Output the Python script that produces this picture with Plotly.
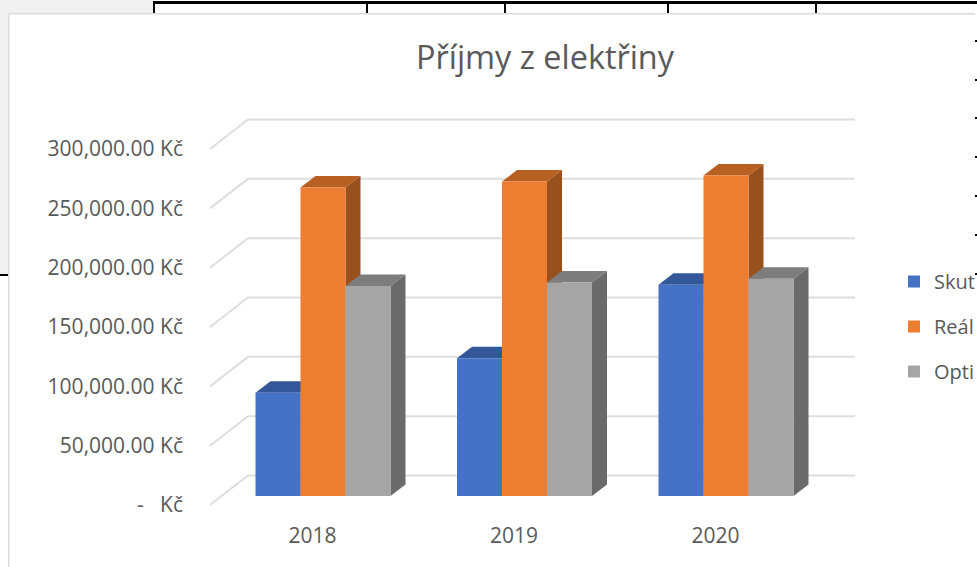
import plotly.graph_objects as go

categories = ["2018", "2019", "2020"]
series_names = ["Skut", "Reál", "Opti"]
skut_values = [87000, 116000, 178000]
real_values = [260000, 265000, 270000]
opti_values = [177000, 180000, 183000]
tick_values = [0, 50000, 100000, 150000, 200000, 250000, 300000]
tick_labels = ["-\u00a0\u00a0\u00a0Kč", "50,000.00 Kč", "100,000.00 Kč", "150,000.00 Kč",
               "200,000.00 Kč", "250,000.00 Kč", "300,000.00 Kč"]

W, H = 977, 567
front = ["#4472C4", "#ED7D31", "#A5A5A5"]
top = ["#34579A", "#B85F22", "#7D7D7D"]
side = ["#2C4A80", "#98511C", "#6A6A6A"]
TEXT = "#595959"
GRID = "#DEDEDE"
FONT = "Open Sans"

PX_PER_CAT = 201.5
PX_PER_VAL = 59.33 / 50000
BAR_X0 = 323.0   # pixel of first category in the bar plane
BAR_Y0 = 496     # pixel of value 0 in the bar plane
WALL_X0 = 312.5  # pixel of first category in the front-of-floor plane
WALL_Y0 = 505

def xrange_for(x0):
    return [(0 - x0) / PX_PER_CAT, (W - x0) / PX_PER_CAT]

def yrange_for(y0):
    return [(y0 - H) / PX_PER_VAL, y0 / PX_PER_VAL]

BARGAP = 0.33
bar_w = (1 - BARGAP) / 3
dx_bar, dy_bar = 15 / PX_PER_CAT, 11.5 / PX_PER_VAL
dx_wall, dy_wall = 38 / PX_PER_CAT, 29.5 / PX_PER_VAL
wall_left = (210 - WALL_X0) / PX_PER_CAT
wall_right = (855 - WALL_X0) / PX_PER_CAT

fig = go.Figure()

# Gridlines on the wall and the side wall
gx, gy = [], []
for v in tick_values:
    gx += [wall_left, wall_left + dx_wall, wall_right, None]
    gy += [v, v + dy_wall, v + dy_wall, None]
fig.add_trace(go.Scatter(x=gx, y=gy, mode="lines", line=dict(color=GRID, width=2),
                         hoverinfo="skip", showlegend=False, xaxis="x", yaxis="y"))

all_values = [skut_values, real_values, opti_values]
# Depth faces: computed from the values
for s, values in enumerate(all_values):
    for c, v in enumerate(values):
        left = c + (s - 1.5) * bar_w
        right = left + bar_w
        fig.add_trace(go.Scatter(
            x=[right, right + dx_bar, right + dx_bar, right, right],
            y=[0, dy_bar, v + dy_bar, v, 0],
            mode="lines", fill="toself", fillcolor=side[s], line=dict(width=0),
            hoverinfo="skip", showlegend=False, xaxis="x2", yaxis="y2"))
        fig.add_trace(go.Scatter(
            x=[left, left + dx_bar, right + dx_bar, right, left],
            y=[v, v + dy_bar, v + dy_bar, v, v],
            mode="lines", fill="toself", fillcolor=top[s], line=dict(width=0),
            hoverinfo="skip", showlegend=False, xaxis="x2", yaxis="y2"))

# Front faces
for s, values in enumerate(all_values):
    fig.add_trace(go.Bar(x=list(range(len(categories))), y=values, name=series_names[s],
                         marker=dict(color=front[s], line=dict(width=0)),
                         legendgroup=series_names[s], xaxis="x3", yaxis="y3"))

def px(x):
    return x / W

def py(y):
    return 1 - y / H

shapes = []
def rect(x0, y0, x1, y1, color):
    shapes.append(dict(type="rect", xref="paper", yref="paper", x0=px(x0), x1=px(x1),
                       y0=py(y0), y1=py(y1), fillcolor=color, line=dict(width=0), layer="below"))

rect(0, 0, 154, 274, "#F0F0F0")
rect(0, 274, 8, 276, "#000000")
rect(154, 1, 977, 4, "#000000")
for xv in [154, 367, 505, 668, 816]:
    rect(xv - 1, 1, xv + 1, 13, "#000000")
for yv in [41, 80, 118, 157, 196, 235, 274]:
    rect(975, yv - 1, 977, yv + 1, "#000000")
rect(8, 13, 975, 567, "#FFFFFF")
rect(8, 13, 975, 14.5, "#DCDCDC")
rect(8, 13, 9.5, 567, "#DCDCDC")

fig.update_layout(
    width=W, height=H,
    margin=dict(l=0, r=0, t=0, b=0, autoexpand=False),
    paper_bgcolor="white", plot_bgcolor="rgba(0,0,0,0)",
    barmode="group", bargap=BARGAP, bargroupgap=0,
    font=dict(family=FONT, color=TEXT),
    shapes=shapes,
    title=dict(text="Příjmy z elektřiny", x=545 / W, xanchor="center", y=1 - 58 / H, yanchor="middle",
               font=dict(size=32.4, color=TEXT, family=FONT)),
    legend=dict(x=894 / W, xanchor="left", y=1 - 262 / H, yanchor="top", traceorder="grouped",
                tracegroupgap=16, bgcolor="rgba(0,0,0,0)", font=dict(size=20, color=TEXT, family=FONT)),
    xaxis=dict(range=xrange_for(WALL_X0), tickmode="array", tickvals=list(range(len(categories))),
               ticktext=categories, showgrid=False, zeroline=False, showline=False, ticks="",
               anchor="free", position=1 - 521 / H, tickfont=dict(size=21, color=TEXT, family=FONT)),
    yaxis=dict(range=yrange_for(WALL_Y0), tickmode="array", tickvals=tick_values, ticktext=tick_labels,
               showgrid=False, zeroline=False, showline=False, ticks="",
               anchor="free", position=183 / W, tickfont=dict(size=21, color=TEXT, family=FONT)),
    xaxis2=dict(range=xrange_for(BAR_X0), overlaying="x", visible=False),
    yaxis2=dict(range=yrange_for(BAR_Y0), overlaying="y", visible=False),
    xaxis3=dict(range=xrange_for(BAR_X0), overlaying="x", visible=False),
    yaxis3=dict(range=yrange_for(BAR_Y0), overlaying="y", visible=False),
)

fig.write_html("out.html", config={"displayModeBar": False},
               post_script="document.body.style.margin='0';")
